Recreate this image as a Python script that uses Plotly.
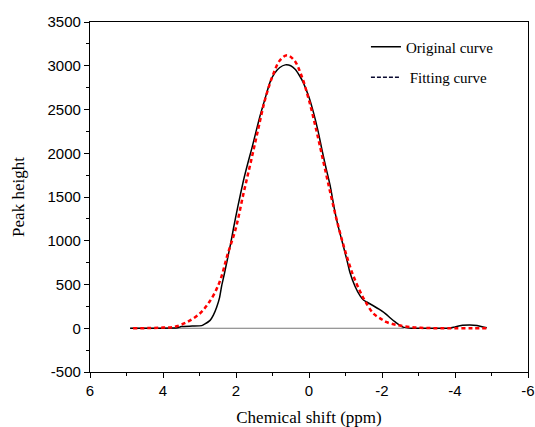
import plotly.graph_objects as go

# Original curve (chemical shift ppm, peak height)
orig_x = [4.9, 4.2, 3.6, 3.5, 3.2, 2.94, 2.85, 2.71, 2.62, 2.53, 2.45, 2.39, 2.32, 2.25,
          2.15, 2.07, 1.95, 1.80, 1.68, 1.57, 1.45, 1.34, 1.2, 1.07, 0.95, 0.8, 0.65,
          0.5, 0.38, 0.25, 0.16, 0.0, -0.12, -0.25, -0.35, -0.45, -0.58, -0.71, -0.82,
          -0.94, -1.05, -1.12, -1.26, -1.40, -1.50, -1.58, -1.75, -1.95, -2.1, -2.22,
          -2.35, -2.45, -2.6, -2.8, -3.5, -3.86, -4.0, -4.2, -4.41, -4.6, -4.87]
orig_y = [0, 0, 5, 20, 25, 30, 50, 90, 150, 240, 350, 490, 620, 760,
          960, 1140, 1390, 1680, 1880, 2050, 2250, 2430, 2630, 2810, 2910, 2980, 3010,
          3000, 2960, 2880, 2810, 2640, 2470, 2250, 2050, 1860, 1630, 1330, 1130,
          940, 760, 640, 480, 370, 320, 300, 260, 210, 165, 120,
          75, 45, 10, 0, 0, 0, 15, 33, 38, 32, 5]

# Fitting curve
fit_x = [4.82, 4.4, 4.0, 3.7, 3.35, 3.0, 2.8, 2.6, 2.42, 2.24, 2.01, 1.8, 1.6, 1.4, 1.2,
         1.0, 0.8, 0.6, 0.4, 0.2, 0.0, -0.2, -0.4, -0.6, -0.8, -1.0, -1.2, -1.4, -1.53,
         -1.76, -2.0, -2.13, -2.4, -2.8, -3.2, -3.6, -4.0, -4.5, -4.87]
fit_y = [0, 2, 8, 15, 69, 165, 260, 390, 563, 830, 1135, 1530, 1890, 2260, 2620,
         2880, 3060, 3120, 3060, 2880, 2606, 2265, 1893, 1519, 1170, 870, 615, 420, 316,
         170, 100, 69, 38, 12, 3, 0, 0, 0, 0]

# Baseline
base_x = [4.9, -2.6]
base_y = [0, 0]

x_ticks = [6, 4, 2, 0, -2, -4, -6]
y_ticks = [-500, 0, 500, 1000, 1500, 2000, 2500, 3000, 3500]

fig = go.Figure()
fig.add_trace(go.Scatter(x=base_x, y=base_y, mode="lines",
                         line=dict(color="#777777", width=1), showlegend=False,
                         hoverinfo="skip"))
fig.add_trace(go.Scatter(x=orig_x, y=orig_y, mode="lines", name="Original curve",
                         line=dict(color="black", width=1.5, shape="spline", smoothing=0.5),
                         showlegend=False))
fig.add_trace(go.Scatter(x=fit_x, y=fit_y, mode="lines", name="Fitting curve",
                         line=dict(color="red", width=2.5, dash="4px,3px", shape="spline"),
                         showlegend=False))
# legend entries
fig.add_trace(go.Scatter(x=[None], y=[None], mode="lines", name="Original curve",
                         line=dict(color="black", width=1.5), legendgroup="a"))
fig.add_trace(go.Scatter(x=[None], y=[None], mode="lines", name=" Fitting curve",
                         line=dict(color="#0a0a30", width=1.5, dash="4px,2px"),
                         legendgroup="b"))

axis_common = dict(showline=True, linecolor="black", linewidth=1.2, mirror=True,
                   ticks="outside", ticklen=5, tickwidth=1, tickcolor="black",
                   showgrid=False, zeroline=False, automargin=False,
                   tickfont=dict(family="Liberation Sans, Arial", size=15, color="black"))

fig.update_xaxes(range=[6, -6], tickvals=x_ticks, ticktext=[str(v) for v in x_ticks],
                 minor=dict(ticks="outside", ticklen=3, dtick=1, tick0=0, tickcolor="black"),
                 title=dict(text="Chemical shift (ppm)",
                            font=dict(family="Liberation Serif, Times New Roman", size=17,
                                      color="black"), standoff=17),
                 **axis_common)
fig.update_yaxes(range=[-500, 3500], tickvals=y_ticks, ticktext=[str(v) for v in y_ticks],
                 minor=dict(ticks="outside", ticklen=3, dtick=250, tick0=0, tickcolor="black"),
                 title=dict(text="Peak height",
                            font=dict(family="Liberation Serif, Times New Roman", size=17,
                                      color="black"), standoff=18),
                 **axis_common)

fig.update_layout(width=535, height=427, margin=dict(l=90, r=7, t=22, b=55, autoexpand=False),
                  plot_bgcolor="white", paper_bgcolor="white",
                  legend=dict(x=0.63, y=0.976, xanchor="left", yanchor="top",
                              bgcolor="rgba(0,0,0,0)", tracegroupgap=8,
                              font=dict(family="Liberation Serif, Times New Roman", size=15,
                                        color="black")))

# remove the default 8px page margin so the figure fills the window exactly
fig.write_html("out.html", config={"displayModeBar": False},
               post_script="document.body.style.margin='0';document.body.style.overflow='hidden';")
